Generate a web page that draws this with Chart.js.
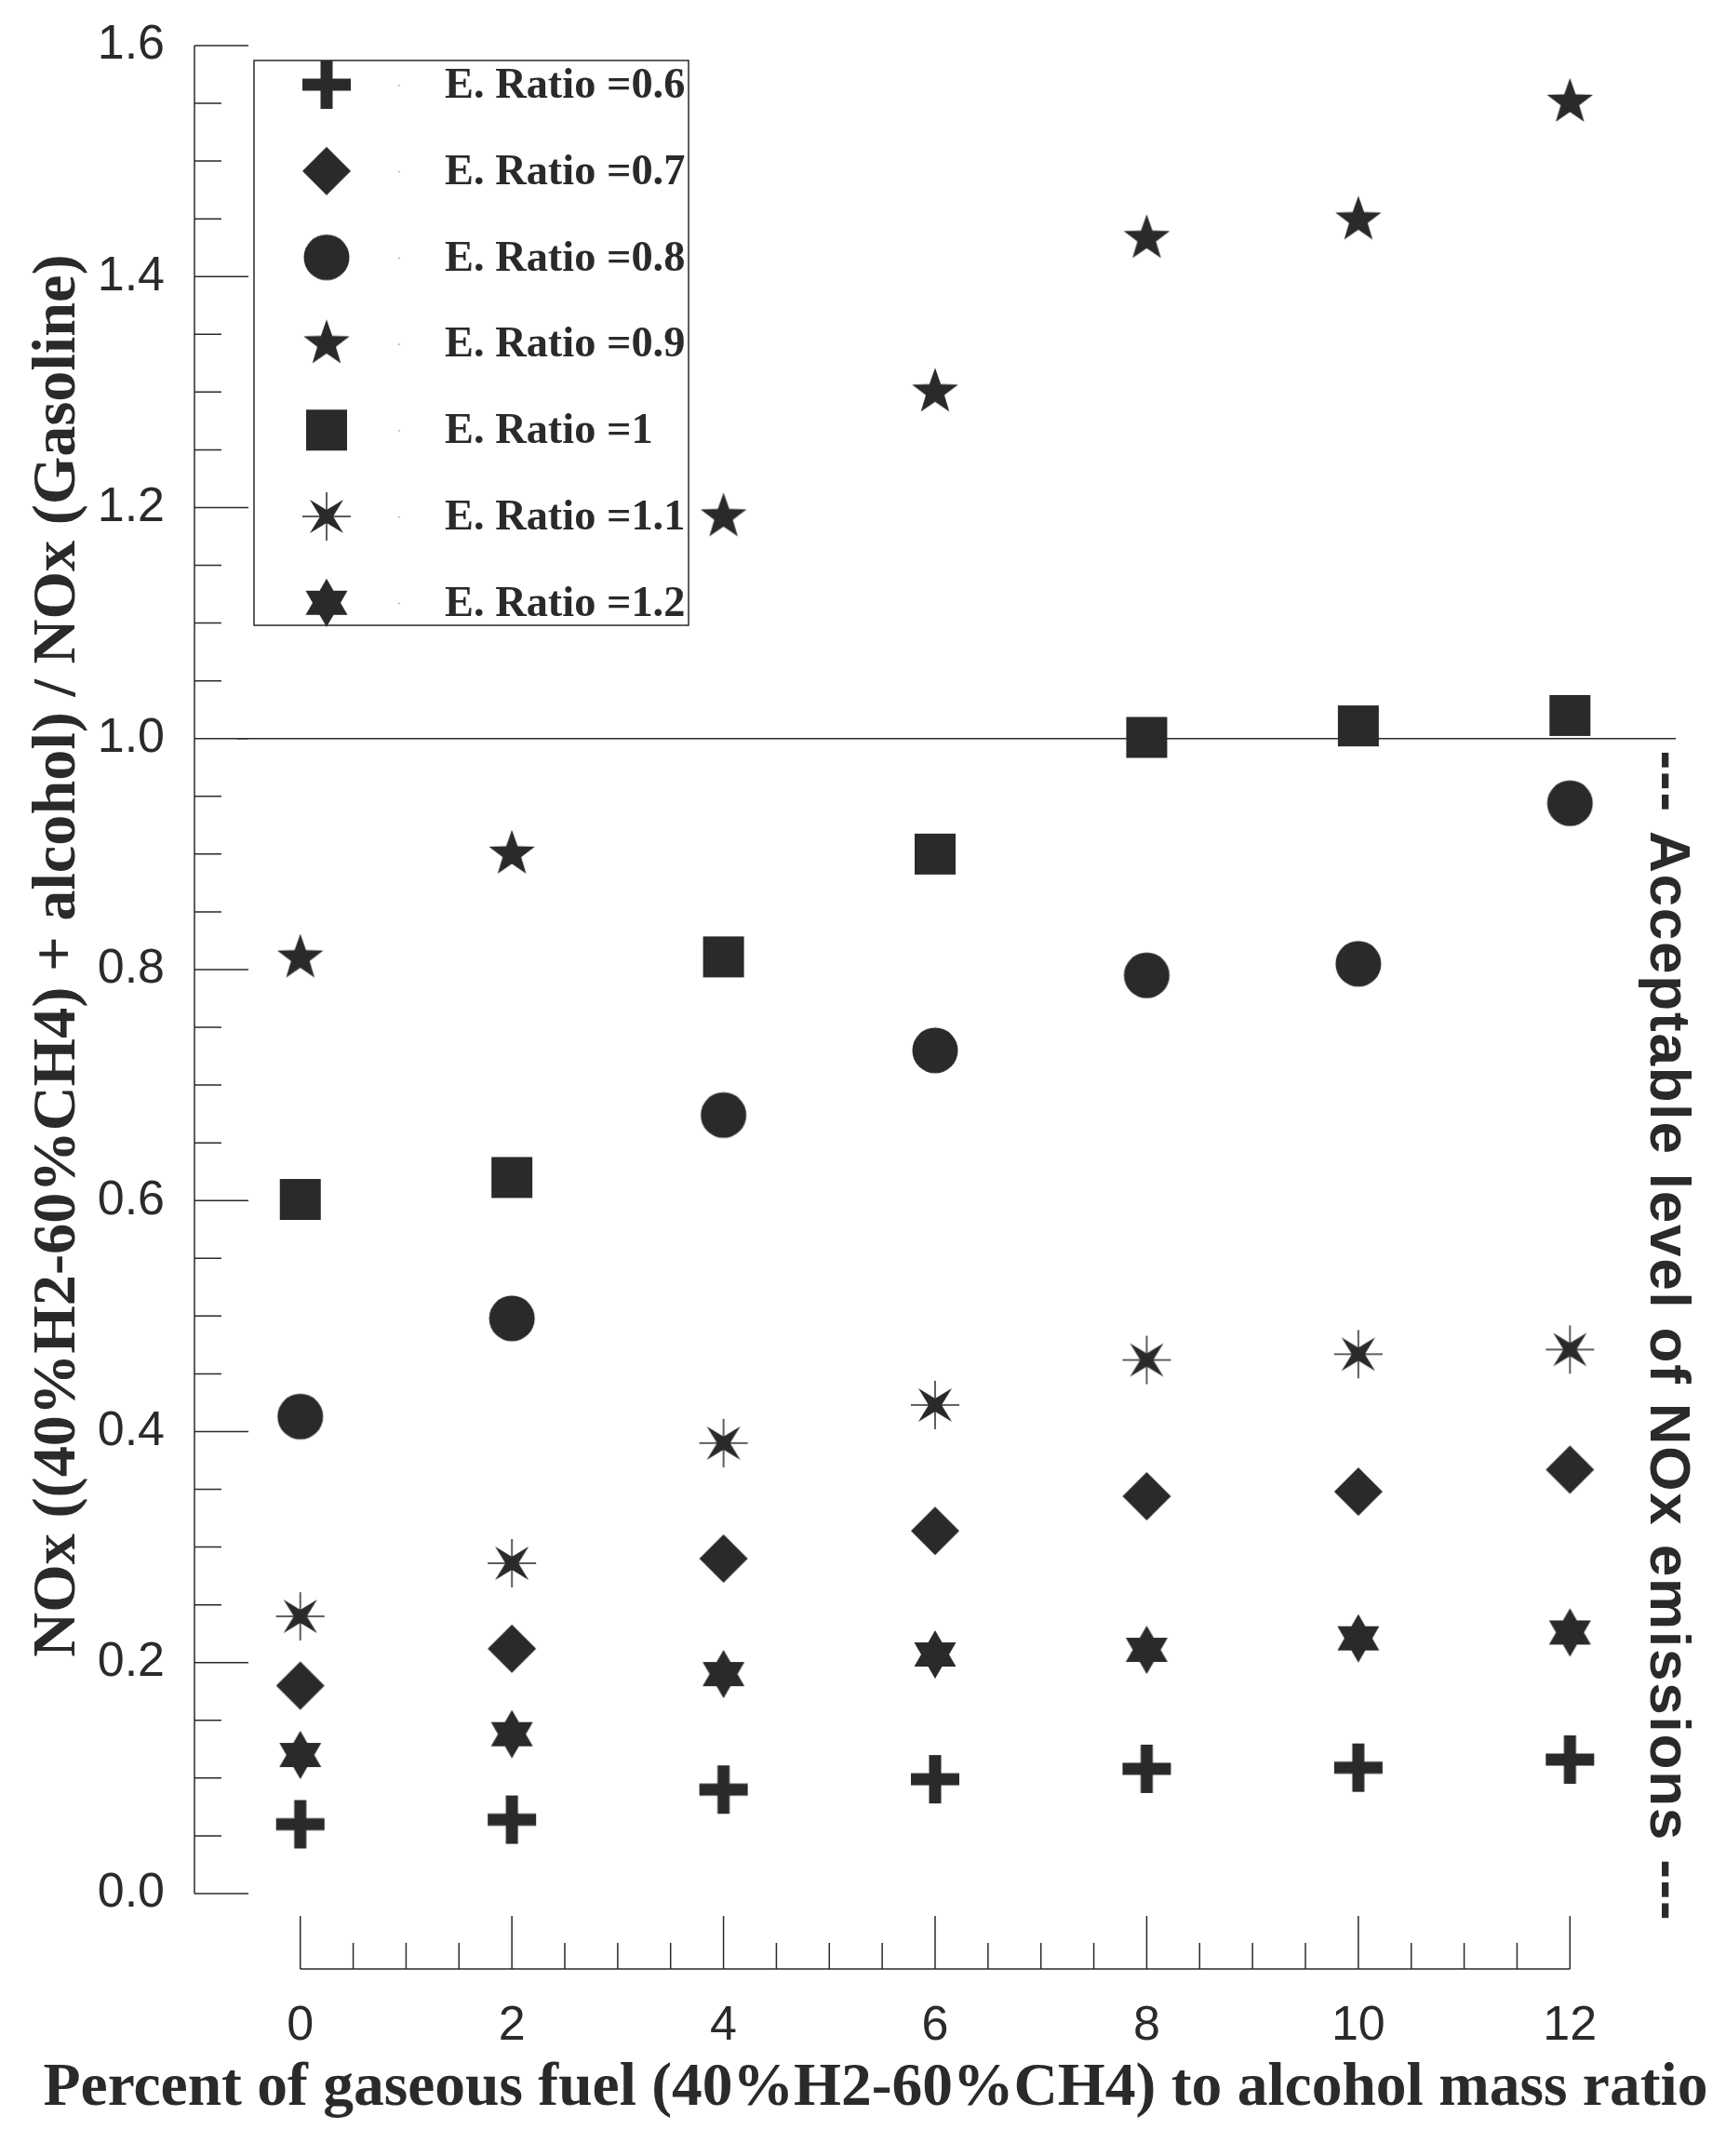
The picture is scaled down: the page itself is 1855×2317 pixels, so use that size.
<!DOCTYPE html>
<html>
<head>
<meta charset="utf-8">
<title>NOx ratio vs gaseous fuel share</title>
<script src="https://cdn.jsdelivr.net/npm/chart.js@4.4.1/dist/chart.umd.min.js"></script>
<style>
  html, body { margin: 0; padding: 0; background: #fff; }
  canvas { display: block; }
</style>
</head>
<body>
<canvas id="nox-chart" width="1855" height="2317"></canvas>
<script>
// Values
const gasPercent = [0, 2, 4, 6, 8, 10, 12];

const ratioLabels = [
    'E. Ratio =0.6', 'E. Ratio =0.7', 'E. Ratio =0.8', 'E. Ratio =0.9',
    'E. Ratio =1', 'E. Ratio =1.1', 'E. Ratio =1.2'
];

const noxRatio06 = [0.060, 0.064, 0.090, 0.099, 0.108, 0.109, 0.116];
const noxRatio07 = [0.180, 0.212, 0.290, 0.314, 0.344, 0.348, 0.367];
const noxRatio08 = [0.413, 0.498, 0.674, 0.730, 0.795, 0.805, 0.944];
const noxRatio09 = [0.810, 0.900, 1.192, 1.300, 1.433, 1.449, 1.551];
const noxRatio10 = [0.601, 0.620, 0.811, 0.900, 1.001, 1.011, 1.020];
const noxRatio11 = [0.240, 0.286, 0.390, 0.423, 0.462, 0.467, 0.471];
const noxRatio12 = [0.120, 0.138, 0.190, 0.207, 0.211, 0.221, 0.226];

const yTickValues = [0, 0.2, 0.4, 0.6, 0.8, 1.0, 1.2, 1.4, 1.6];
const yTickLabels = ['0.0', '0.2', '0.4', '0.6', '0.8', '1.0', '1.2', '1.4', '1.6'];
const xTickValues = [0, 2, 4, 6, 8, 10, 12];
const xTickLabels = ['0', '2', '4', '6', '8', '10', '12'];

// acceptable level line (y value) and its x extent
const acceptableLevel = 1.0;
const acceptableSpan = [-0.6, 13];

const xTitle = 'Percent of gaseous fuel (40%H2-60%CH4) to alcohol mass ratio';
const yTitle = 'NOx ((40%H2-60%CH4) + alcohol) / NOx (Gasoline)';
const noteText = '--- Acceptable level of NOx emissions ---';

const INK = '#2a2a2a';
const SANS = '"Liberation Sans", Arial, sans-serif';
const SERIF = '"Liberation Serif", "Times New Roman", serif';

// Marker images (used for points and legend)
function makeMarker(draw) {
    const c = document.createElement('canvas');
    c.width = 60;
    c.height = 60;
    const g = c.getContext('2d');
    g.fillStyle = INK;
    g.strokeStyle = INK;
    g.translate(30, 30);
    draw(g);
    return c;
}

function starPath(g, n, outer, inner, start) {
    g.beginPath();
    for (let k = 0; k < 2 * n; k++) {
        const a = start + k * Math.PI / n;
        const r = k % 2 === 0 ? outer : inner;
        if (k === 0) g.moveTo(r * Math.cos(a), r * Math.sin(a));
        else g.lineTo(r * Math.cos(a), r * Math.sin(a));
    }
    g.closePath();
    g.fill();
}

const markers = [
    makeMarker(g => {           // thick plus
        g.fillRect(-26, -6.5, 52, 13);
        g.fillRect(-6.5, -26, 13, 52);
    }),
    makeMarker(g => {           // diamond
        g.beginPath();
        g.moveTo(0, -26); g.lineTo(26, 0); g.lineTo(0, 26); g.lineTo(-26, 0);
        g.closePath();
        g.fill();
    }),
    makeMarker(g => {           // circle
        g.beginPath();
        g.arc(0, 0, 24.5, 0, Math.PI * 2);
        g.fill();
    }),
    makeMarker(g => starPath(g, 5, 26, 10.5, -Math.PI / 2)),
    makeMarker(g => g.fillRect(-22, -22, 44, 44)),
    makeMarker(g => {           // 4-point star with thin cross
        starPath(g, 4, 25.5, 7, -Math.PI / 4);
        g.lineWidth = 1.5;
        g.beginPath();
        g.moveTo(-26, 0); g.lineTo(26, 0);
        g.moveTo(0, -26); g.lineTo(0, 26);
        g.stroke();
    }),
    makeMarker(g => starPath(g, 6, 26, 15, -Math.PI / 2))
];

const seriesValues = [noxRatio06, noxRatio07, noxRatio08, noxRatio09, noxRatio10, noxRatio11, noxRatio12];

const datasets = seriesValues.map((vals, i) => ({
    label: ratioLabels[i],
    data: vals.map((v, j) => ({ x: gasPercent[j], y: v })),
    pointStyle: markers[i],
    pointRadius: 26,
    pointHoverRadius: 26,
    backgroundColor: INK,
    borderColor: INK
}));

// reference line, last so it is drawn behind the markers
datasets.push({
    type: 'line',
    label: 'acceptable',
    data: acceptableSpan.map(x => ({ x: x, y: acceptableLevel })),
    borderColor: INK,
    borderWidth: 1.5,
    pointRadius: 0,
    showLine: true,
    fill: false
});

// Axes, tick labels and titles drawn from the chart's scales
const axesPlugin = {
    id: 'offsetAxes',
    afterDraw(chart) {
        const ctx = chart.ctx;
        const xs = chart.scales.x;
        const ys = chart.scales.y;
        const area = chart.chartArea;

        ctx.save();
        ctx.strokeStyle = INK;
        ctx.fillStyle = INK;
        ctx.lineWidth = 1.5;

        // y axis
        const yAxisX = area.left;
        const yLo = yTickValues[0];
        const yHi = yTickValues[yTickValues.length - 1];
        ctx.beginPath();
        ctx.moveTo(yAxisX, ys.getPixelForValue(yLo));
        ctx.lineTo(yAxisX, ys.getPixelForValue(yHi));
        for (let v = yLo; v <= yHi + 1e-9; v += 0.05) {
            const py = ys.getPixelForValue(v);
            const major = Math.abs(v / 0.2 - Math.round(v / 0.2)) < 1e-6;
            ctx.moveTo(yAxisX, py);
            ctx.lineTo(yAxisX + (major ? 58 : 29), py);
        }
        ctx.stroke();

        ctx.font = '52px ' + SANS;
        ctx.textAlign = 'right';
        ctx.textBaseline = 'middle';
        yTickValues.forEach((v, i) => {
            ctx.fillText(yTickLabels[i], yAxisX - 32, ys.getPixelForValue(v));
        });

        // x axis
        const xAxisY = area.bottom;
        const xLo = xTickValues[0];
        const xHi = xTickValues[xTickValues.length - 1];
        ctx.beginPath();
        ctx.moveTo(xs.getPixelForValue(xLo), xAxisY);
        ctx.lineTo(xs.getPixelForValue(xHi), xAxisY);
        for (let v = xLo; v <= xHi + 1e-9; v += 0.5) {
            const px = xs.getPixelForValue(v);
            const major = Math.abs(v / 2 - Math.round(v / 2)) < 1e-6;
            ctx.moveTo(px, xAxisY);
            ctx.lineTo(px, xAxisY - (major ? 57 : 28));
        }
        ctx.stroke();

        ctx.textAlign = 'center';
        ctx.textBaseline = 'alphabetic';
        xTickValues.forEach((v, i) => {
            ctx.fillText(xTickLabels[i], xs.getPixelForValue(v), xAxisY + 76);
        });

        // axis titles
        ctx.font = 'bold 65.5px ' + SERIF;
        ctx.fillText(xTitle, 941, xAxisY + 146);

        ctx.save();
        ctx.translate(80, 1027);
        ctx.rotate(-Math.PI / 2);
        ctx.font = 'bold 66.3px ' + SERIF;
        ctx.fillText(yTitle, 0, 0);
        ctx.restore();

        // note on the right, reading downward
        ctx.save();
        ctx.translate(1774, 1436);
        ctx.rotate(Math.PI / 2);
        ctx.font = 'bold 62px ' + SANS;
        ctx.letterSpacing = '1.8px';
        ctx.fillText(noteText, 0, 0);
        ctx.restore();

        ctx.restore();
    }
};

// Boxed legend in the upper-left of the plot
const legendPlugin = {
    id: 'boxLegend',
    afterDraw(chart) {
        const ctx = chart.ctx;
        const box = { left: 273, top: 65, right: 740, bottom: 672 };
        const rowTop = 91;
        const rowStep = 92.8;

        ctx.save();
        ctx.strokeStyle = INK;
        ctx.lineWidth = 1.5;
        ctx.strokeRect(box.left, box.top, box.right - box.left, box.bottom - box.top);

        ctx.font = 'bold 46.4px ' + SERIF;
        ctx.fillStyle = INK;
        ctx.textAlign = 'left';
        ctx.textBaseline = 'middle';

        chart.data.datasets.forEach((ds, i) => {
            if (ds.type === 'line') return;
            const cy = rowTop + i * rowStep;
            const img = ds.pointStyle;
            ctx.drawImage(img, 351 - img.width / 2, cy - img.height / 2);
            ctx.fillStyle = '#999';
            ctx.fillRect(428, cy, 1.5, 1.5);
            ctx.fillStyle = INK;
            ctx.fillText(ds.label, 478, cy + 2);
        });
        ctx.restore();
    }
};

const ctx = document.getElementById('nox-chart');

const noxChart = new Chart(ctx, {
    type: 'scatter',
    data: { datasets: datasets },
    options: {
        responsive: false,
        animation: false,
        layout: {
            padding: { left: 209, right: 54, top: 49, bottom: 201 }
        },
        scales: {
            x: { type: 'linear', min: -1, max: 13, display: false },
            y: { type: 'linear', min: -0.0653, max: 1.6, display: false }
        },
        plugins: {
            legend: { display: false },
            tooltip: { enabled: false }
        }
    },
    plugins: [axesPlugin, legendPlugin]
});
</script>
</body>
</html>
